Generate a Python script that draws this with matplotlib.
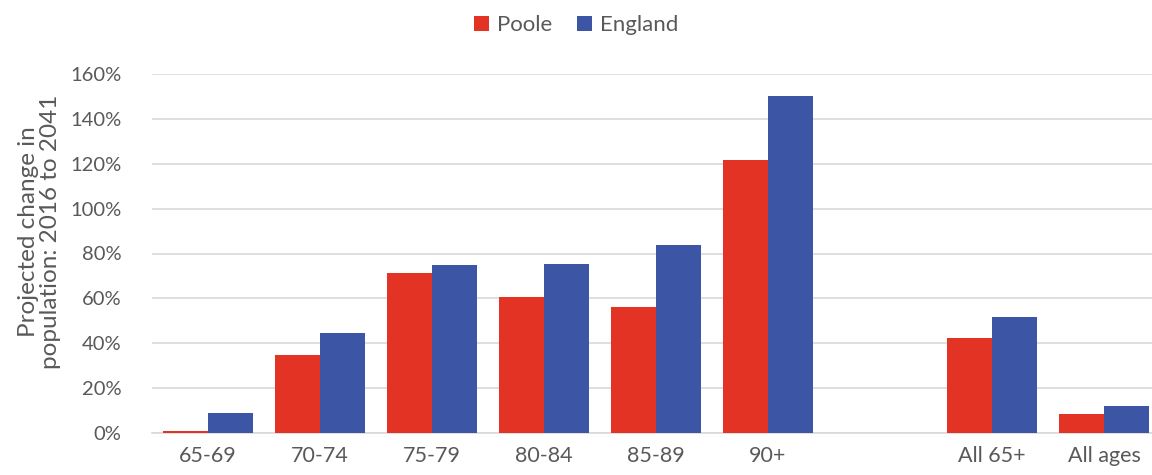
import matplotlib.pyplot as plt
import numpy as np

categories = ['65-69', '70-74', '75-79', '80-84', '85-89', '90+', '', 'All 65+', 'All ages']
poole = [1, 34.7, 71.2, 60.5, 56.1, 121.5, 0, 42.3, 8.5]
england = [9, 44.5, 74.8, 75.2, 83.6, 150.2, 0, 51.7, 12]

red = '#E33325'
blue = '#3C56A5'
grey = '#595959'

plt.rcParams['font.family'] = ['Lato', 'DejaVu Sans']

fig = plt.figure(figsize=(11.52, 4.75), dpi=100)
ax = fig.add_axes([152 / 1152, 42 / 475, 1008 / 1152, 359 / 475])

x = np.arange(len(categories))
w = 0.4
ax.bar(x - w / 2, poole, w, color=red, label='Poole', zorder=3)
ax.bar(x + w / 2, england, w, color=blue, label='England', zorder=3)

ax.set_xlim(-0.5, len(categories) - 0.5)
ax.set_ylim(0, 160)
ax.set_yticks(range(0, 161, 20))
ax.set_yticklabels([f'{v}%' for v in range(0, 161, 20)])
ax.set_xticks(x)
ax.set_xticklabels(categories)
ax.tick_params(axis='y', length=0, labelsize=14.5, colors=grey, pad=22)
ax.tick_params(axis='x', length=0, labelsize=15.5, colors=grey, pad=9)
ax.grid(axis='y', color='#D9D9D9', linewidth=1.2, zorder=0)
for s in ['top', 'right', 'left']:
    ax.spines[s].set_visible(False)
ax.spines['bottom'].set_color('#D9D9D9')
ax.spines['bottom'].set_linewidth(1.2)

ax.set_ylabel('Projected change in\npopulation: 2016 to 2041', fontsize=17.5, color=grey,
              linespacing=1.1)
ax.yaxis.set_label_coords(-0.09, 0.56)

fig.legend(loc='upper center', bbox_to_anchor=(0.5, 1.01), ncol=2, frameon=False,
           fontsize=16, labelcolor=grey, handlelength=0.7, handleheight=0.7,
           handletextpad=0.35, columnspacing=1.1)

fig.savefig('out.png', dpi=100)
